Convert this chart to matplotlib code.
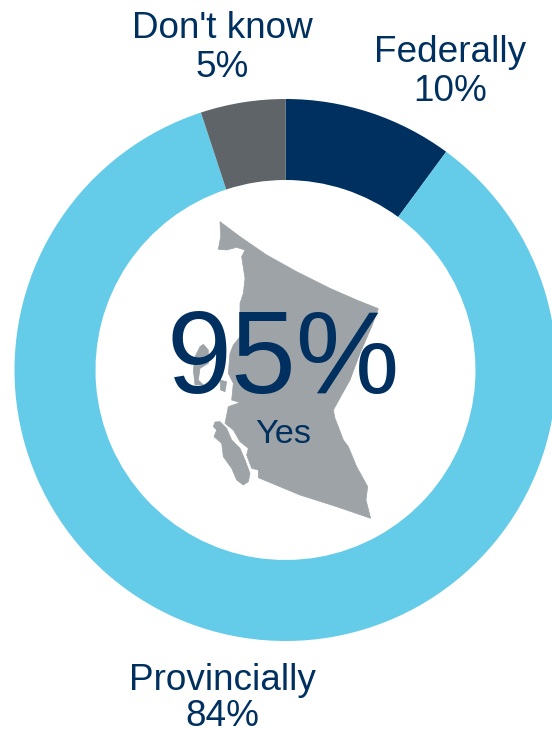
import matplotlib
matplotlib.use("Agg")
import matplotlib.pyplot as plt
from matplotlib.patches import Polygon

plt.rcParams['font.family'] = ['Liberation Sans', 'DejaVu Sans']

categories = ["Federally", "Provincially", "Don't know"]
values = [10, 84, 5]
colors = ["#00305F", "#64CBE8", "#5F6468"]
headline = "95%"
headline_label = "Yes"
NAVY = "#00305F"
MAP = "#9DA3A6"
W, H = 552, 729

# decorative province outline, in zoom-crop pixels
main_land = [(90,35),(150,80),(230,135),(320,185),(420,235),(500,270),(565,296),(545,350),(510,430),
             (480,510),(430,600),(435,625),(445,650),(460,690),(475,710),(500,770),(533,830),(528,870),
             (542,925),(440,890),(330,855),(205,803),(205,780),(185,775),(170,735),(175,715),(150,695),
             (130,660),(105,640),(115,590),(150,578),(125,570),(130,520),(115,490),(120,430),(130,405),
             (150,380),(150,280),(160,250),(165,205),(155,140),(165,120),(140,112),(110,120),(85,118),(92,80)]
van_island = [(75,636),(90,635),(110,655),(125,690),(150,715),(165,750),(180,790),(175,815),(160,825),
              (140,810),(125,775),(100,740),(95,700),(72,680),(80,660),(70,650)]
haida = [(40,403),(55,420),(55,460),(30,475),(25,510),(40,525),(15,525),(10,480),(15,440),(30,410)]
islet = [(90,510),(110,515),(105,545),(92,540)]

fig = plt.figure(figsize=(W/100, H/100), dpi=100, facecolor="white")
ax = fig.add_axes([0, 0, 1, 1])

cx, cy, r_out, r_in = 285.5, H-370, 271, 190
ax.pie(values, colors=colors, startangle=90, counterclock=False, center=(cx, cy), radius=r_out,
       wedgeprops=dict(width=r_out-r_in, linewidth=0), frame=True)
ax.set_xlim(0, W); ax.set_ylim(0, H)
ax.set_aspect("equal")
ax.axis("off")

for shape in (main_land, van_island, haida, islet):
    pts = [(190+x/3, H-(210+y/3)) for x, y in shape]
    ax.add_patch(Polygon(pts, closed=True, facecolor=MAP, edgecolor=MAP, linewidth=0.5, joinstyle="round", zorder=3))

def label(x, y, s, size):
    ax.text(x, H-y, s, ha="center", va="baseline", fontsize=size, color=NAVY, zorder=4)

label_pos = {"Federally": (450, 62, 101), "Provincially": (222, 690, 726), "Don't know": (222, 38, 77)}
for c, v in zip(categories, values):
    x, y1, y2 = label_pos[c]
    label(x, y1, c, 26.6)
    label(x, y2, f"{v}%", 26.6)
label(283.5, 393, headline, 84)
label(283, 443, headline_label, 24.7)

fig.savefig("out.png", dpi=100, facecolor="white")
